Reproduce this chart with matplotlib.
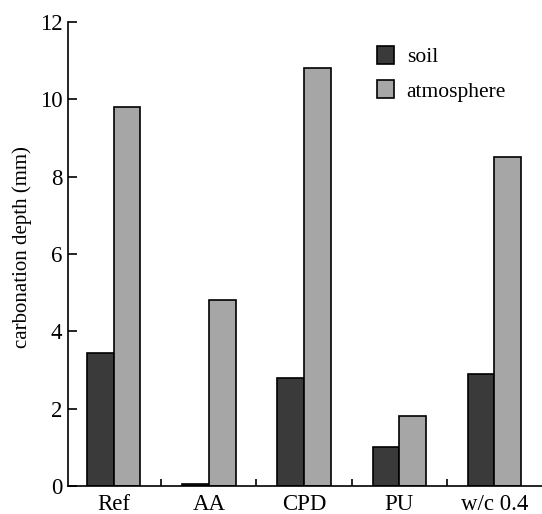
import matplotlib
matplotlib.use('Agg')
import matplotlib.pyplot as plt
import numpy as np

plt.rcParams['font.family'] = ['Liberation Serif', 'DejaVu Serif']

# data
categories = ['Ref', 'AA', 'CPD', 'PU', 'w/c 0.4']
soil = [3.45, 0.05, 2.8, 1.0, 2.9]
atmosphere = [9.8, 4.8, 10.8, 1.8, 8.5]

fig = plt.figure(figsize=(5.42, 5.14), dpi=100)
ax = fig.add_axes([0.1255, 0.0545, 0.8745, 0.9027])

x = np.arange(len(categories))
w = 0.28
ax.bar(x - w/2, soil, w, color='#3a3a3a', edgecolor='black', linewidth=1.2, label='soil')
ax.bar(x + w/2, atmosphere, w, color='#a6a6a6', edgecolor='black', linewidth=1.2, label='atmosphere')

ax.set_xlim(-0.48, 4.5)
ax.set_ylim(0, 12)
ax.set_yticks(range(0, 13, 2))
ax.set_xticks(x)
ax.set_xticklabels(categories)
ax.set_xticks(x[:-1] + 0.5, minor=True)

ax.spines['top'].set_visible(False)
ax.spines['right'].set_visible(False)
ax.spines['left'].set_linewidth(1.2)
ax.spines['bottom'].set_linewidth(1.2)

ax.tick_params(axis='y', direction='in', length=6.5, width=1.2, labelsize=16.5, pad=4)
ax.tick_params(axis='x', which='major', length=0, labelsize=16.5, pad=6)
ax.tick_params(axis='x', which='minor', direction='in', length=5, width=1.2)

ax.set_ylabel('carbonation depth (mm)', fontsize=15)
ax.yaxis.set_label_coords(-0.076, 0.515)

ax.legend(loc='upper left', bbox_to_anchor=(0.61, 0.99), frameon=False, fontsize=15.5,
          handlelength=0.8, handleheight=0.9, handletextpad=0.6, labelspacing=0.6)

fig.savefig('out.png', dpi=100)
